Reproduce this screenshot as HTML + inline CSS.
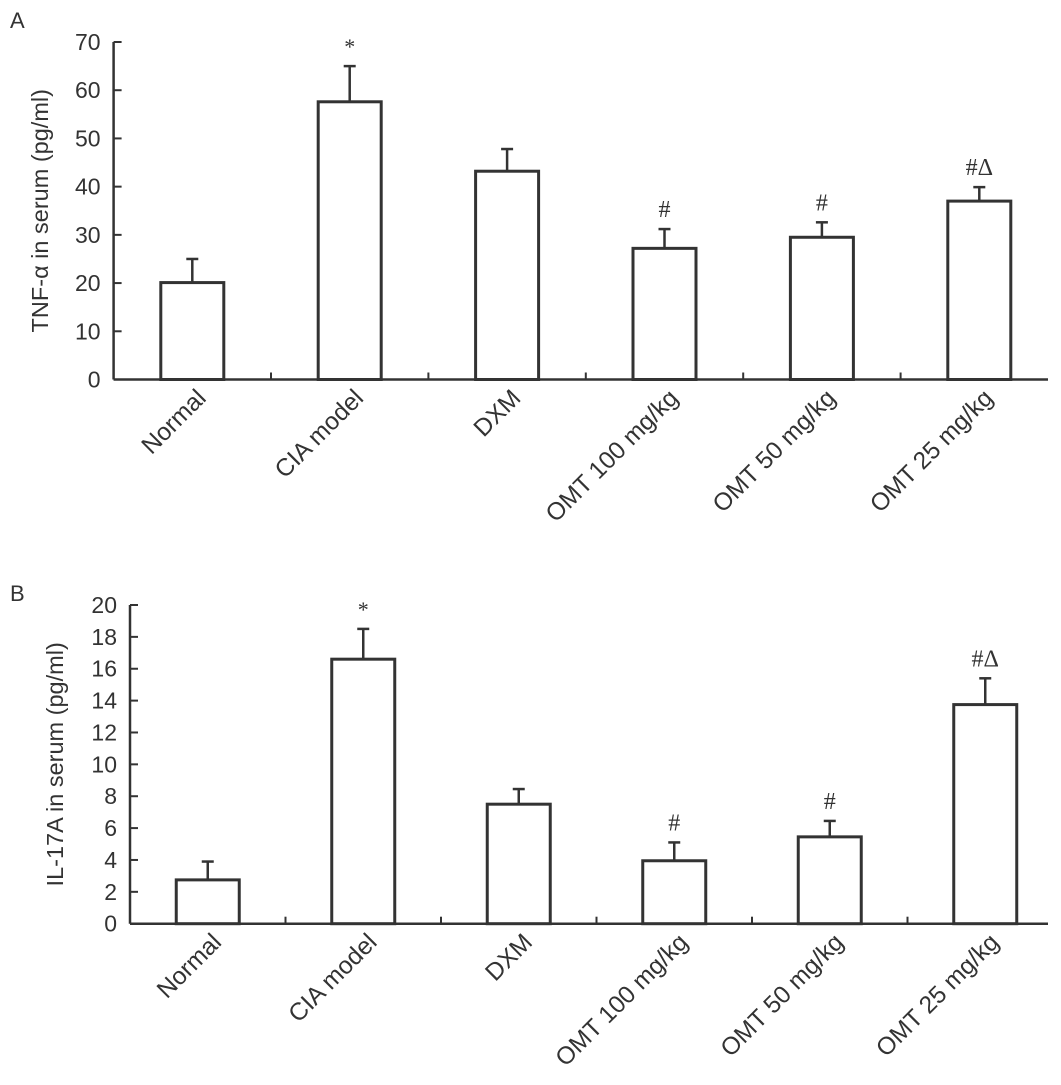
<!DOCTYPE html>
<html><head><meta charset="utf-8"><style>
html,body{margin:0;padding:0;background:#fff;}
svg{display:block;}
text{font-family:"Liberation Sans",Arial,sans-serif;fill:#333;}
.ann{font-family:"Liberation Serif",serif;}
</style></head><body>
<svg id="chart" width="1061" height="1085" viewBox="0 0 1061 1085" xmlns="http://www.w3.org/2000/svg"></svg>
<script>
const categories = ["Normal","CIA model","DXM","OMT 100 mg/kg","OMT 50 mg/kg","OMT 25 mg/kg"];
const tnfValues = [20.1, 57.6, 43.2, 27.2, 29.5, 37.0];
const tnfErrors = [4.9, 7.4, 4.6, 4.0, 3.1, 2.9];
const il17Values = [2.75, 16.6, 7.5, 3.95, 5.45, 13.75];
const il17Errors = [1.15, 1.9, 0.95, 1.15, 1.0, 1.65];
const annotations = ["", "*", "", "#", "#", "#Δ"];
const tnfTicks = [0,10,20,30,40,50,60,70];
const il17Ticks = [0,2,4,6,8,10,12,14,16,18,20];

const NS = "http://www.w3.org/2000/svg";
const svg = document.getElementById("chart");
function mk(tag, attrs, parent){
  const e = document.createElementNS(NS, tag);
  for (const k in attrs) e.setAttribute(k, attrs[k]);
  (parent||svg).appendChild(e);
  return e;
}

function drawPanel(cfg){
  const g = mk("g", {});
  
  
  const y = v => cfg.y0 - (v - cfg.min) / (cfg.max - cfg.min) * (cfg.y0 - cfg.yTop);
  const band = cfg.band;
  const xc = i => cfg.x0 + band * (i + 0.5);
  const stroke = "#333";

  const letter = mk("text", {x: cfg.letterX, y: cfg.letterY, "font-size": 22}, g);
  letter.textContent = cfg.letter;
  
  

  const ya = mk("line", {x1: cfg.x0, y1: cfg.y0, x2: cfg.x0, y2: cfg.yTop, stroke, "stroke-width": 2.5}, g);
  
  
  cfg.ticks.forEach(t => {
    const tl = mk("line", {x1: cfg.x0, y1: y(t), x2: cfg.x0 + 8, y2: y(t), stroke, "stroke-width": 2}, g);
    
    
    const tx = mk("text", {x: cfg.x0 - 13, y: y(t) + 8, "font-size": 23, "text-anchor": "end"}, g);
    tx.textContent = t;
    
    
  });
  const yt = mk("text", {x: 0, y: 0, "font-size": 23.5, "text-anchor": "middle",
    transform: `translate(${cfg.titleX},${(cfg.y0 + cfg.yTop) / 2}) rotate(-90)`}, g);
  yt.textContent = cfg.title;
  
  

  const xa = mk("line", {x1: cfg.x0, y1: cfg.y0, x2: cfg.xEnd, y2: cfg.y0, stroke, "stroke-width": 2.5}, g);
  
  
  for (let i = 1; i < categories.length; i++) {
    const bx = cfg.x0 + band * i;
    const ct = mk("line", {x1: bx, y1: cfg.y0, x2: bx, y2: cfg.y0 - 7, stroke, "stroke-width": 2}, g);
    
    
  }

  const bw = 63;
  categories.forEach((c, i) => {
    const cx = xc(i);
    const top = y(cfg.values[i]);
    const et = y(cfg.values[i] + cfg.errors[i]);
    const eb = mk("line", {x1: cx, y1: top, x2: cx, y2: et, stroke, "stroke-width": 2.5}, g);
    
    
    const cap = mk("line", {x1: cx - 6, y1: et, x2: cx + 6, y2: et, stroke, "stroke-width": 2.5}, g);
    
    
    const r = mk("rect", {x: cx - bw / 2, y: top, width: bw, height: cfg.y0 - top, fill: "#fff", stroke, "stroke-width": 3}, g);
    
    
    if (annotations[i]) {
      const a = mk("text", {x: cx, y: et - 12, "font-size": annotations[i] === "*" ? 22 : 24, "text-anchor": "middle", class: "ann"}, g);
      a.textContent = annotations[i];
      
      
    }
    const lx = cx + 15, ly = cfg.y0 + 20;
    const lab = mk("text", {x: lx, y: ly, "font-size": 24.5, "text-anchor": "end", transform: `rotate(-45 ${lx} ${ly})`}, g);
    lab.textContent = c;
    
    
  });
}

drawPanel({name: "tnf-alpha-chart", letter: "A", letterX: 10, letterY: 28,
  x0: 113.6, band: 157.4, xEnd: 1048, y0: 379.5, yTop: 42, min: 0, max: 70,
  ticks: tnfTicks, values: tnfValues, errors: tnfErrors,
  title: "TNF-α in serum (pg/ml)", titleX: 48});
drawPanel({name: "il-17a-chart", letter: "B", letterX: 10, letterY: 601,
  x0: 130, band: 155.5, xEnd: 1048, y0: 923.7, yTop: 605, min: 0, max: 20,
  ticks: il17Ticks, values: il17Values, errors: il17Errors,
  title: "IL-17A in serum (pg/ml)", titleX: 63});
</script>
</body></html>
